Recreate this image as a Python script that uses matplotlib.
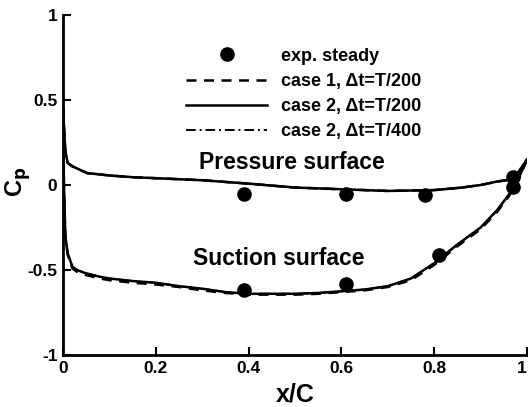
import matplotlib
matplotlib.use("Agg")
import matplotlib.pyplot as plt

# ---- data ----
ps_x = [0.0, 0.002, 0.005, 0.01, 0.02, 0.036, 0.052, 0.08, 0.1, 0.15, 0.2, 0.3, 0.4, 0.5,
        0.6, 0.7, 0.8, 0.86, 0.9, 0.935, 0.96, 0.98, 1.0]
ps_cp = [0.45, 0.35, 0.2, 0.13, 0.11, 0.09, 0.07, 0.062, 0.056, 0.046, 0.04, 0.028, 0.008,
         -0.015, -0.025, -0.035, -0.03, -0.015, 0.0, 0.02, 0.03, 0.07, 0.15]

ss_x = [0.0, 0.002, 0.005, 0.01, 0.02, 0.03, 0.05, 0.08, 0.1, 0.15, 0.2, 0.25, 0.3, 0.35,
        0.4, 0.45, 0.5, 0.55, 0.6, 0.65, 0.7, 0.75, 0.8, 0.85, 0.9, 0.935, 0.96, 0.98, 1.0]
ss_cp = [0.45, 0.0, -0.3, -0.4, -0.48, -0.5, -0.52, -0.54, -0.55, -0.565, -0.575, -0.595,
         -0.61, -0.63, -0.64, -0.64, -0.64, -0.635, -0.625, -0.615, -0.595, -0.55, -0.46,
         -0.35, -0.25, -0.15, -0.06, 0.03, 0.15]
ss_cp_case1 = [0.45, 0.0, -0.3, -0.41, -0.49, -0.51, -0.53, -0.55, -0.56, -0.575, -0.585,
               -0.6, -0.62, -0.635, -0.645, -0.645, -0.645, -0.64, -0.63, -0.62, -0.6,
               -0.56, -0.47, -0.36, -0.26, -0.16, -0.07, 0.02, 0.15]

exp_x = [0.39, 0.61, 0.78, 0.97, 0.97, 0.39, 0.61, 0.81]
exp_cp = [-0.05, -0.05, -0.06, 0.05, -0.01, -0.62, -0.58, -0.41]

xticks = [0, 0.2, 0.4, 0.6, 0.8, 1]
xtick_labels = ["0", "0.2", "0.4", "0.6", "0.8", "1"]
yticks = [-1, -0.5, 0, 0.5, 1]
ytick_labels = ["-1", "-0.5", "0", "0.5", "1"]

labels = ["exp. steady", "case 1, \u0394t=T/200", "case 2, \u0394t=T/200", "case 2, \u0394t=T/400"]

plt.rcParams['font.family'] = ['Liberation Sans', 'DejaVu Sans']
plt.rcParams['font.weight'] = 'bold'

fig = plt.figure(figsize=(5.28, 4.07), dpi=100)
ax = fig.add_axes([63/528, 52/407, 464/528, 340/407])

lw = 1.8
h_exp, = ax.plot(exp_x, exp_cp, 'o', color='black', markersize=9.5, linestyle='none', zorder=5)
h1, = ax.plot(ps_x, ps_cp, color='black', lw=lw, linestyle=(0, (4, 3)))
ax.plot(ss_x, ss_cp_case1, color='black', lw=lw, linestyle=(0, (4, 3)))
h2, = ax.plot(ps_x, ps_cp, color='black', lw=lw, linestyle='-')
ax.plot(ss_x, ss_cp, color='black', lw=lw, linestyle='-')
h3, = ax.plot(ps_x, ps_cp, color='black', lw=1.4, linestyle=(0, (5, 2, 1, 2)))
ax.plot(ss_x, ss_cp, color='black', lw=1.4, linestyle=(0, (5, 2, 1, 2)))

ax.set_xlim(0, 1)
ax.set_ylim(-1, 1)
ax.set_xticks(xticks)
ax.set_xticklabels(xtick_labels)
ax.set_yticks(yticks)
ax.set_yticklabels(ytick_labels)
for s in ['top', 'right']:
    ax.spines[s].set_visible(False)
for s in ['left', 'bottom']:
    ax.spines[s].set_linewidth(2)
ax.tick_params(direction='in', length=6, width=1.5, labelsize=12.5, pad=4)
for t in ax.get_xticklabels() + ax.get_yticklabels():
    t.set_fontweight('bold')
ax.get_xticklabels()[-1].set_horizontalalignment('right')

ax.set_xlabel('x/C', fontsize=18, fontweight='bold', labelpad=5)
ax.set_ylabel('C$_\\mathbf{p}$', fontsize=17, fontweight='bold')
ax.yaxis.set_label_coords(-0.065, 0.51)

ax.text(0.4925, 0.13, 'Pressure surface', fontsize=16.5, fontweight='bold', va='center', ha='center')
ax.text(0.464, -0.43, 'Suction surface', fontsize=16.5, fontweight='bold', va='center', ha='center')

leg = ax.legend([h_exp, h1, h2, h3], labels, loc='upper left', bbox_to_anchor=(0.25, 0.925),
                frameon=False, fontsize=13, handlelength=4.5, handletextpad=0.75,
                labelspacing=0.45, borderaxespad=0)
for t in leg.get_texts():
    t.set_fontweight('bold')

fig.savefig('out.png', dpi=100)
